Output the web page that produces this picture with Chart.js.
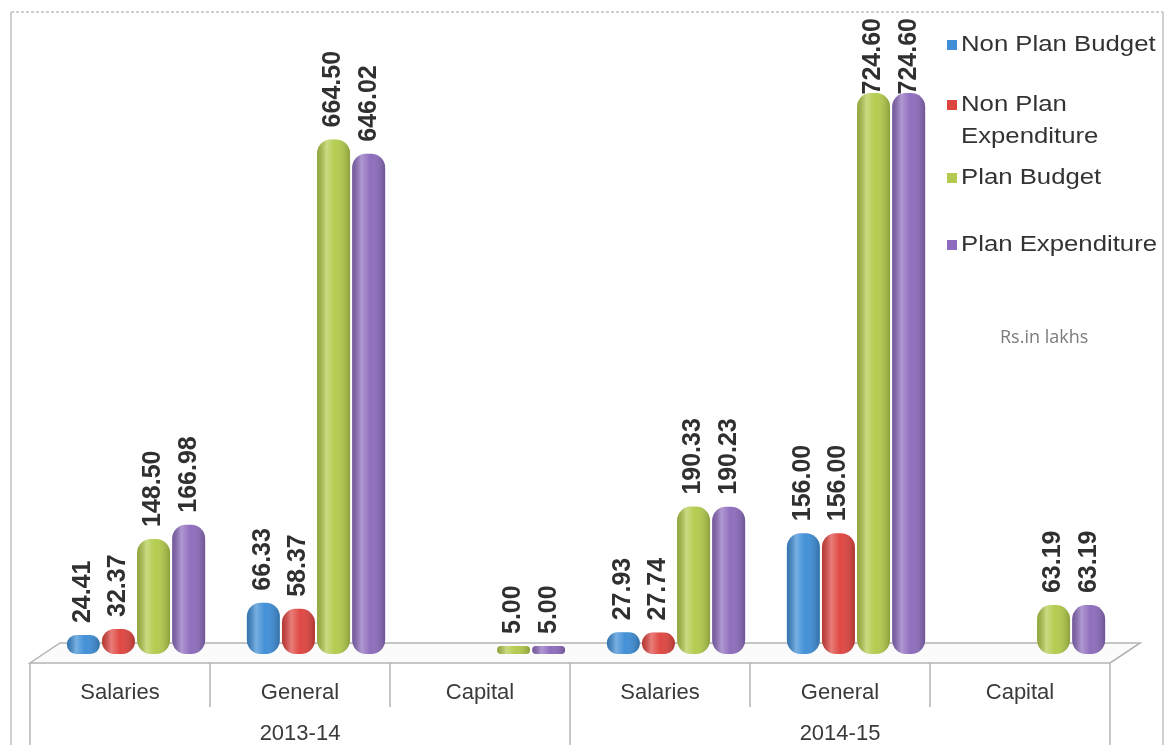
<!DOCTYPE html>
<html lang="en">
<head>
<meta charset="UTF-8">
<title>Budget and Expenditure 2013-14 / 2014-15</title>
<script src="https://cdn.jsdelivr.net/npm/chart.js@4"></script>
<style>
  html, body { margin: 0; padding: 0; background: #fff; }
  #wrap { width: 1168px; height: 745px; position: relative; overflow: hidden; }
</style>
</head>
<body>
<div id="wrap"><canvas id="chart" width="1168" height="745"></canvas></div>
<script>
// ---------------------------------------------------------------------------
// Data (Rs. in lakhs)
// ---------------------------------------------------------------------------
const categories = ['Salaries', 'General', 'Capital', 'Salaries', 'General', 'Capital'];
const years = ['2013-14', '2014-15'];
const seriesNames = ['Non Plan Budget', 'Non Plan Expenditure', 'Plan Budget', 'Plan Expenditure'];
const legendLines = [['Non Plan Budget'], ['Non Plan', 'Expenditure'], ['Plan Budget'], ['Plan Expenditure']];

const nonPlanBudget      = [24.41, 66.33, null, 27.93, 156.00, null];
const nonPlanExpenditure = [32.37, 58.37, null, 27.74, 156.00, null];
const planBudget         = [148.50, 664.50, 5.00, 190.33, 724.60, 63.19];
const planExpenditure    = [166.98, 646.02, 5.00, 190.23, 724.60, 63.19];

const yMax = 820;

const colors = ['#3f8ed6', '#df4540', '#b2cb4c', '#8d6cbd'];

// 3D look: bars sit half way back on the floor
const DX = 16, DY = -9;      // bar shift
const FX = 30, FY = -20;     // floor depth

const FONT = '"Liberation Sans", Arial, sans-serif';

// ---------------------------------------------------------------------------
// Plugins
// ---------------------------------------------------------------------------
const depthPlugin = {
  id: 'depth3d',
  beforeDatasetsDraw(chart) {
    const { ctx, chartArea: a } = chart;
    // floor
    ctx.save();
    ctx.beginPath();
    ctx.moveTo(a.left, a.bottom);
    ctx.lineTo(a.right, a.bottom);
    ctx.lineTo(a.right + FX, a.bottom + FY);
    ctx.lineTo(a.left + FX, a.bottom + FY);
    ctx.closePath();
    ctx.fillStyle = '#fbfbfb';
    ctx.fill();
    ctx.strokeStyle = '#b4b4b4';
    ctx.lineWidth = 1.5;
    ctx.stroke();
    ctx.restore();

    ctx.save();
    ctx.translate(DX, DY);
  },
  afterDatasetsDraw(chart) {
    const { ctx } = chart;
    // cylinder shading
    chart.getSortedVisibleDatasetMetas().forEach(meta => {
      const data = chart.data.datasets[meta.index].data;
      meta.data.forEach((el, i) => {
        if (data[i] == null) return;
        const p = el.getProps(['x', 'y', 'base', 'width'], true);
        const left = p.x - p.width / 2, h = p.base - p.y;
        const r = Math.min(14, p.width / 2, h / 2);
        const g = ctx.createLinearGradient(left, 0, left + p.width, 0);
        g.addColorStop(0, 'rgba(0,0,0,0.18)');
        g.addColorStop(0.28, 'rgba(255,255,255,0.30)');
        g.addColorStop(0.55, 'rgba(255,255,255,0.02)');
        g.addColorStop(1, 'rgba(0,0,0,0.22)');
        ctx.save();
        ctx.beginPath();
        ctx.roundRect(left, p.y, p.width, h, r);
        ctx.fillStyle = g;
        ctx.fill();
        ctx.restore();
      });
    });
    // value labels, rotated
    ctx.save();
    ctx.fillStyle = '#303030';
    ctx.font = 'bold 25px ' + FONT;
    ctx.textAlign = 'left';
    ctx.textBaseline = 'middle';
    chart.getSortedVisibleDatasetMetas().forEach(meta => {
      const data = chart.data.datasets[meta.index].data;
      meta.data.forEach((el, i) => {
        const v = data[i];
        if (v == null) return;
        const p = el.getProps(['x', 'y'], true);
        const txt = v.toFixed(2);
        const w = ctx.measureText(txt).width;
        // keep the label inside the frame
        const bottom = Math.max(p.y - 12, 18 - DY + w);
        ctx.save();
        ctx.translate(p.x, bottom);
        ctx.rotate(-Math.PI / 2);
        ctx.fillText(txt, 0, 0);
        ctx.restore();
      });
    });
    ctx.restore();
    ctx.restore();
  },
  afterDraw(chart) {
    const { ctx, chartArea: a, scales } = chart;
    const xs = scales.x;
    const step = (a.right - a.left) / categories.length;
    ctx.save();

    // outer frame
    ctx.strokeStyle = '#cfcfcf';
    ctx.lineWidth = 2;
    ctx.setLineDash([3, 2]);
    ctx.beginPath();
    ctx.moveTo(11, 12); ctx.lineTo(1163, 12);
    ctx.stroke();
    ctx.setLineDash([]);
    ctx.beginPath();
    ctx.moveTo(11, 12); ctx.lineTo(11, 745);
    ctx.moveTo(1163, 12); ctx.lineTo(1163, 745);
    ctx.stroke();

    // category table under the floor
    ctx.strokeStyle = '#b4b4b4';
    ctx.lineWidth = 1.5;
    ctx.beginPath();
    ctx.moveTo(a.left, a.bottom); ctx.lineTo(a.left, 745);
    ctx.moveTo(a.right, a.bottom); ctx.lineTo(a.right, 745);
    ctx.moveTo(a.right, a.bottom); ctx.lineTo(a.right + FX, a.bottom + FY);
    for (let i = 1; i < categories.length; i++) {
      const x = xs.getPixelForValue(i) - step / 2;
      ctx.moveTo(x, a.bottom);
      ctx.lineTo(x, i % 3 === 0 ? 745 : a.bottom + 44);
    }
    ctx.stroke();

    ctx.fillStyle = '#3a3a3a';
    ctx.textAlign = 'center';
    ctx.textBaseline = 'middle';
    ctx.font = '22px ' + FONT;
    categories.forEach((c, i) => {
      ctx.fillText(c, xs.getPixelForValue(i), a.bottom + 30);
    });
    years.forEach((y, k) => {
      const x0 = xs.getPixelForValue(k * 3) - step / 2;
      ctx.fillText(y, x0 + step * 1.5, a.bottom + 71);
    });

    // legend
    const legendY = [45, 105, 178, 245];
    ctx.textAlign = 'left';
    ctx.font = '22px ' + FONT;
    legendLines.forEach((lines, i) => {
      ctx.fillStyle = colors[i];
      ctx.fillRect(947, legendY[i] - 5, 10, 10);
      ctx.fillStyle = '#333';
      lines.forEach((t, j) => {
        ctx.save();
        ctx.translate(961, legendY[i] + j * 32);
        ctx.scale(1.17, 1);
        ctx.fillText(t, 0, 0);
        ctx.restore();
      });
    });

    // units note
    ctx.fillStyle = '#7c7c7c';
    ctx.font = '18px "Open Sans", sans-serif';
    ctx.fillText('Rs.in lakhs', 1000, 338);
    ctx.restore();
  }
};

// ---------------------------------------------------------------------------
// Chart
// ---------------------------------------------------------------------------
const seriesData = [nonPlanBudget, nonPlanExpenditure, planBudget, planExpenditure];

new Chart(document.getElementById('chart'), {
  type: 'bar',
  data: {
    labels: categories,
    datasets: seriesNames.map((name, i) => ({
      label: name,
      data: seriesData[i],
      backgroundColor: colors[i],
      borderWidth: 0,
      borderRadius: 14,
      borderSkipped: false,
      minBarLength: 8,
      categoryPercentage: 0.78,
      barPercentage: 0.94,
    }))
  },
  options: {
    responsive: false,
    animation: false,
    devicePixelRatio: 1,
    layout: { padding: { left: 30, right: 58, top: 28, bottom: 82 } },
    plugins: { legend: { display: false }, tooltip: { enabled: false } },
    scales: {
      x: { display: false },
      y: { display: false, min: 0, max: yMax }
    }
  },
  plugins: [depthPlugin]
});
</script>
</body>
</html>
